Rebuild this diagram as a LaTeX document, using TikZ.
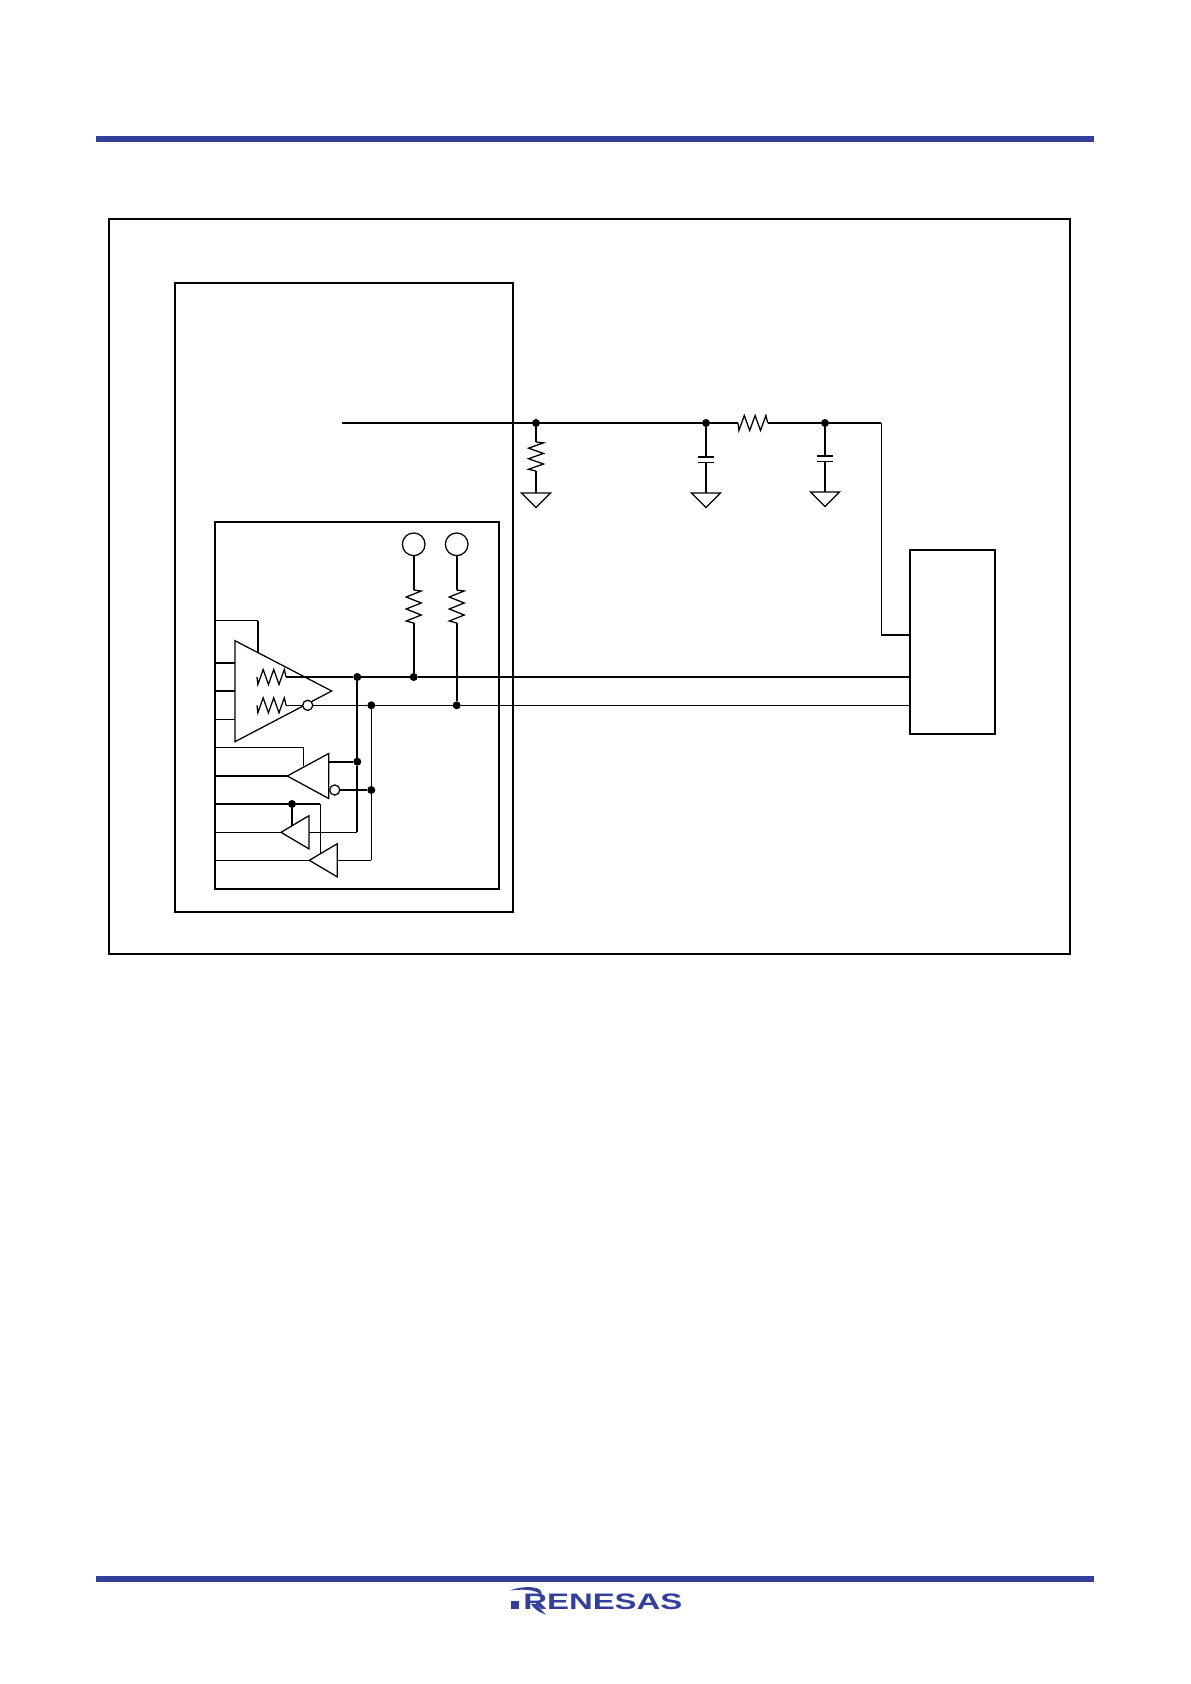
\documentclass[tikz,border=0pt]{standalone}
\usepackage{graphicx}
\usepackage{fontspec}
\setmainfont{Liberation Sans}
\definecolor{barblue}{HTML}{333F99}
\tikzset{
res/.pic={
\coordinate (-a) at (0,0);
\coordinate (-b) at (0,33);
\draw[pic actions] (0,0) -- (7.5,1) -- (-7.5,7) -- (7.5,13) -- (-7.5,19) -- (7.5,25) -- (-7.5,31) -- (0,33);
},
gnd/.pic={
\coordinate (-top) at (0,0);
\draw[thinwire] (-14.5,0) -- (14.5,0) -- (0,14.5) -- cycle;
}
}
\begin{document}
\begin{tikzpicture}
[x=0.75pt,y=-0.75pt,
thinwire/.style={draw,line width=0.95pt,line join=miter},
wire/.style={draw,line width=1.5pt},
bar/.style={fill=barblue,draw=none},
box/.style={shape=rectangle,draw,line width=1.5pt,inner sep=0pt,outer sep=0pt},
edgeline/.style={line width=2.1pt},
junction/.style={shape=circle,fill=black,inner sep=0pt,minimum size=6pt,outer sep=0pt},
pad/.style={shape=circle,draw,line width=0.95pt,fill=white,inner sep=0pt,minimum size=17pt,outer sep=0pt},
bubble/.style={shape=circle,draw,line width=0.95pt,fill=white,inner sep=0pt,minimum size=7.6pt,outer sep=0pt},
plate/.style={line width=1.5pt}]
\useasboundingbox (0,0) rectangle (1190,1684);

%% page bars
\fill[bar] (96,136) rectangle (1094,142);
\fill[bar] (96,1576) rectangle (1094,1582);

%% boxes
\foreach \boxname/\x/\y/\w/\h in {frame/589.5/586.5/961/735, chip/344/597.5/338/629, bus/357/705.5/284/367, tcvr/952.5/642/85/184}
{
\node (\boxname) at (\x,\y) [box,minimum width=\w*0.75pt,minimum height=\h*0.75pt] {};
}
\draw[edgeline] (chip.north west) -- (chip.south west);
\draw[edgeline] (bus.north west) -- (bus.south west);
\draw[edgeline] (tcvr.south west) -- (tcvr.south east);

%% nodes or vertices
\foreach \nodename/\x/\y in {d1/536/423, d2/706/423, d3/825/423, d4/357.3/677, d5/413.7/677, d6/371.3/705.3, d7/456.7/705.3, d8/357.3/761.7, d9/371.3/790, d10/292/804}
{
\node (\nodename) at (\x,\y) [junction] {};
}
\node (pad1) at (413.7,544.3) [pad] {};
\node (pad2) at (456.7,544.3) [pad] {};

\pic[thinwire] (r1) at (536,442) [yscale=0.88] {res};
\pic[thinwire,rotate=90,xscale=-1,yscale=0.9] (r2) at (738,423) {res};
\pic[thinwire] (r3) at (413.7,590) {res};
\pic[thinwire] (r4) at (456.7,590) {res};
\pic[thinwire,rotate=90,xscale=-1,yscale=0.88] (r5) at (257,677) {res};
\pic[thinwire,rotate=90,xscale=-1,yscale=0.88] (r6) at (257,705.3) {res};

\pic (g1) at (536,493) {gnd};
\pic (g2) at (706,493) {gnd};
\pic (g3) at (825,492) {gnd};

%% capacitors
\foreach \capname/\x/\y in {c1/706/456.7, c2/825/455.7}
{
\coordinate (\capname a) at (\x,\y);
\coordinate (\capname b) at (\x,\y+5.6);
\draw[plate] ([xshift=-6pt]\capname a) -- ([xshift=6pt]\capname a);
\draw[thinwire] ([xshift=-6pt]\capname b) -- ([xshift=6pt]\capname b);
}

%% free ends
\foreach \portname/\x/\y in {line/342/423, corner/881.4/423, bend/881.4/635, stub/909.6/635, txa/910/677, txb/910/705.3, p1/215/620.7, p1b/258.3/620.7, p1c/258.3/652.7, p2/215/662.7, p2b/235/662.7, p3/215/691, p3b/235/691, p4/215/719.3, p4b/235/719.3, p5/215/747.3, p5b/303.3/747.3, p5c/303.3/765.7, p6/215/776, p7/215/804, p7b/320.3/804, p7c/320.3/853.8, p8/215/832.3, p9/215/860.3, d10b/292/825.8, back3/309/832.3, turn3/357.3/832.3, back4/337.3/860.3, turn4/371.3/860.3, back2/328.7/761.7}
{
\coordinate (\portname) at (\x,\y);
}

%% buffers
\foreach \bufname/\x/\y/\w/\h in {buf1/287.3/776/41.4/22.5, buf2/281/832.3/28/16.6, buf3/309.3/860.3/28/16.6}
{
\coordinate (\bufname) at (\x,\y);
\draw[thinwire] (\bufname) -- ++(\w,-\h) -- ++(0,2*\h) -- cycle;
}
\draw[thinwire] (235,640.7) -- (331.7,691) -- (235,741.7) -- cycle;

%% edges or lines
\path
\foreach \startnode/\endnode in {line/d1, d1/d2, d2/r2-a, r2-b/d3, d3/corner, d2/c1a, c1b/g2-top, d3/c2a, c2b/g3-top, pad1/r3-a, r3-b/d5, pad2/r4-a, r4-b/d7, r5-b/d4, d4/d5, d5/txa, d4/d8, d8/turn3, back2/d8, p1c/p1b, p2/p2b, p3/p3b, p6/buf1, p7/d10, d10/d10b}
{
(\startnode) edge[wire] (\endnode)
}
\foreach \startnode/\endnode in {d1/r1-a, r1-b/g1-top, corner/bend, d7/txb, d6/d7, r6-b/d6, d6/turn4, turn4/back4, p1/p1b, p4/p4b, p5/p5b, p5b/p5c, d10/p7b, p7b/p7c, p8/buf2, p9/buf3, turn3/back3}
{
(\startnode) edge[thinwire] (\endnode)
}
\foreach \startnode/\endnode in {bend/stub}
{
(\startnode) edge[wire] (\endnode)
};

\node (bub1) at (307.7,705.3) [bubble] {};
\node (bub2) at (334.7,790) [bubble] {};
\path (bub2) edge[wire] (d9);

%% logo
\node (logo) at (523,1609.5) [anchor=base west,inner sep=0pt,text=barblue] {\scalebox{1.47}[1]{\fontsize{16.8}{18}\selectfont\bfseries RENESAS}};
\fill[barblue] (511,1601) rectangle (519,1609);
\fill[barblue] (510,1590.5) .. controls (522,1585.5) and (546,1585) .. (541,1596) .. controls (539,1590) and (525,1588.5) .. (510,1590.5) -- cycle;
\fill[barblue] (531,1604) -- (537,1604) .. controls (540,1609) and (543,1612) .. (546,1614.5) .. controls (540,1613) and (534,1609) .. (531,1604) -- cycle;
\end{tikzpicture}
\end{document}
